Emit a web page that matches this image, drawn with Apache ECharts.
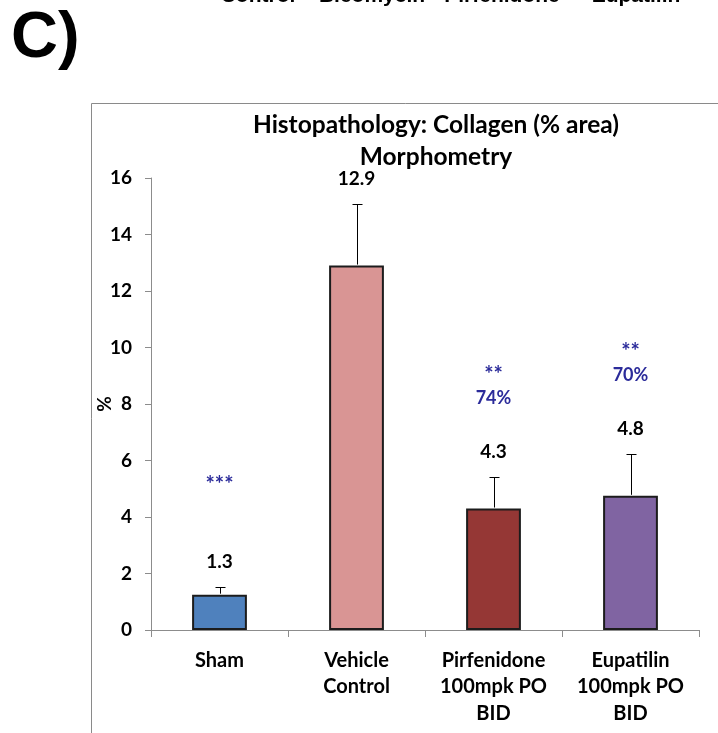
<!DOCTYPE html>
<html>
<head>
<meta charset="utf-8">
<script src="https://cdn.jsdelivr.net/npm/echarts@6/dist/echarts.min.js"></script>
<style>
html,body{margin:0;padding:0;background:#fff;}
#chart{width:718px;height:733px;}
</style>
</head>
<body>
<div id="chart"></div>
<script>
var categories = ["Sham", "Vehicle\nControl", "Pirfenidone\n100mpk PO\nBID", "Eupatilin\n100mpk PO\nBID"];
var means = [1.25, 12.9, 4.3, 4.75];
var errorTops = [1.53, 15.08, 5.41, 6.24];
var valueLabels = ["1.3", "12.9", "4.3", "4.8"];
var sigMarks = ["***", "", "**", "**"];
var pctLabels = ["", "", "74%", "70%"];
var barColors = ["#4F81BD", "#D99594", "#953735", "#8064A2"];
var yTicks = [0, 2, 4, 6, 8, 10, 12, 14, 16];
var topWords = ["Control", "Bleomycin", "Pirfenidone", "Eupatilin"];

var FONT = "Lato";
var chart = echarts.init(document.getElementById('chart'), null, {renderer: 'canvas'});

var errData = means.map(function (m, i) { return [i, m, errorTops[i]]; });

var option = {
  backgroundColor: '#fff',
  animation: false,
  graphic: [
    {type: 'rect', shape: {x: 91.5, y: 103.5, width: 700, height: 700}, style: {fill: 'none', stroke: '#8a8a8a', lineWidth: 1}, silent: true, z: 0},
    {type: 'text', x: 11, y: 72, style: {text: 'C)', font: 'bold 65px "Liberation Sans"', fill: '#000', textVerticalAlign: 'bottom'}},
    {type: 'text', x: 258, y: -4, style: {text: topWords[0], font: 'bold 21px "Liberation Sans"', fill: '#000', textAlign: 'center', textVerticalAlign: 'middle'}},
    {type: 'text', x: 372, y: -4, style: {text: topWords[1], font: 'bold 21px "Liberation Sans"', fill: '#000', textAlign: 'center', textVerticalAlign: 'middle'}},
    {type: 'text', x: 502, y: -4, style: {text: topWords[2], font: 'bold 21px "Liberation Sans"', fill: '#000', textAlign: 'center', textVerticalAlign: 'middle'}},
    {type: 'text', x: 636, y: -4, style: {text: topWords[3], font: 'bold 21px "Liberation Sans"', fill: '#000', textAlign: 'center', textVerticalAlign: 'middle'}},
    {type: 'text', x: 436, y: 125, style: {text: 'Histopathology: Collagen (% area)', font: 'bold 24.5px ' + FONT, fill: '#000', textAlign: 'center', textVerticalAlign: 'middle'}},
    {type: 'text', x: 436, y: 157, style: {text: 'Morphometry', font: 'bold 24.5px ' + FONT, fill: '#000', textAlign: 'center', textVerticalAlign: 'middle'}}
  ],
  grid: {left: 151, right: 19, top: 178, bottom: 103, containLabel: false},
  xAxis: {
    type: 'category',
    data: categories,
    boundaryGap: true,
    axisLine: {show: true, lineStyle: {color: '#8c8c8c', width: 1}},
    axisTick: {show: true, alignWithLabel: false, length: 7, lineStyle: {color: '#8c8c8c'}},
    axisLabel: {interval: 0, margin: 17, color: '#000', fontFamily: FONT, fontWeight: 'bold', fontSize: 20, lineHeight: 26.5, align: 'center'},
    splitLine: {show: false}
  },
  yAxis: {
    type: 'value',
    min: yTicks[0], max: yTicks[yTicks.length - 1], interval: 2,
    name: '%',
    nameLocation: 'middle',
    nameRotate: 90,
    nameGap: 37,
    nameMoveOverlap: false,
    nameTextStyle: {color: '#000', fontFamily: FONT, fontWeight: 'bold', fontSize: 19},
    axisLine: {show: true, lineStyle: {color: '#8c8c8c', width: 1}},
    axisTick: {show: true, length: 6, lineStyle: {color: '#8c8c8c'}},
    axisLabel: {margin: 19, color: '#000', fontFamily: FONT, fontWeight: 'bold', fontSize: 19},
    splitLine: {show: false}
  },
  series: [
    {
      type: 'bar',
      data: means.map(function (v, i) { return {value: v, itemStyle: {color: barColors[i]}}; }),
      barWidth: '40%',
      itemStyle: {borderColor: '#1c1c1c', borderWidth: 2},
      z: 2
    },
    {
      type: 'custom',
      data: errData,
      z: 3,
      renderItem: function (params, api) {
        var i = api.value(0);
        var p0 = api.coord([i, api.value(1)]);
        var p1 = api.coord([i, api.value(2)]);
        var x = Math.round(p0[0]) + 0.5;
        var yt = Math.round(p1[1]) + 0.5;
        var cap = 5;
        var labY = p1[1] - 25;
        var children = [
          {type: 'line', shape: {x1: x, y1: p0[1] - 1, x2: x, y2: yt}, style: {stroke: '#000', lineWidth: 1}},
          {type: 'line', shape: {x1: x - cap, y1: yt, x2: x + cap, y2: yt}, style: {stroke: '#000', lineWidth: 1}},
          {type: 'text', x: p0[0], y: labY, style: {text: valueLabels[i], font: 'bold 19px ' + FONT, fill: '#000', textAlign: 'center', textVerticalAlign: 'middle'}}
        ];
        var pct = pctLabels[i];
        if (pct) {
          children.push({type: 'text', x: p0[0], y: labY - 54, style: {text: pct, font: 'bold 18px ' + FONT, fill: '#2B2B9A', textAlign: 'center', textVerticalAlign: 'middle'}});
        }
        if (sigMarks[i]) {
          children.push({type: 'text', x: p0[0], y: labY - 77, style: {text: sigMarks[i], font: 'bold 22px ' + FONT, fill: '#2B2B9A', textAlign: 'center', textVerticalAlign: 'middle'}});
        }
        return {type: 'group', children: children};
      }
    }
  ]
};
chart.setOption(option);
</script>
</body>
</html>
